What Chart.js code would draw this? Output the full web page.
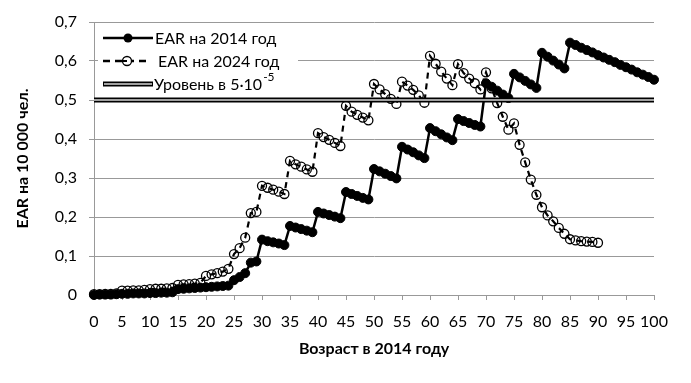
<!DOCTYPE html>
<html><head><meta charset="utf-8">
<script src="https://cdn.jsdelivr.net/npm/chart.js@4.4.1/dist/chart.umd.min.js"></script>
<style>html,body{margin:0;padding:0;background:#fff}</style>
</head><body>
<canvas id="c" width="691" height="383"></canvas>
<script>
// ---- data ----
const ages2014 = [0,1,2,3,4,5,6,7,8,9,10,11,12,13,14,15,16,17,18,19,20,21,22,23,24,25,26,27,28,29,30,31,32,33,34,35,36,37,38,39,40,41,42,43,44,45,46,47,48,49,50,51,52,53,54,55,56,57,58,59,60,61,62,63,64,65,66,67,68,69,70,71,72,73,74,75,76,77,78,79,80,81,82,83,84,85,86,87,88,89,90,91,92,93,94,95,96,97,98,99,100];
const ages2024 = [0,1,2,3,4,5,6,7,8,9,10,11,12,13,14,15,16,17,18,19,20,21,22,23,24,25,26,27,28,29,30,31,32,33,34,35,36,37,38,39,40,41,42,43,44,45,46,47,48,49,50,51,52,53,54,55,56,57,58,59,60,61,62,63,64,65,66,67,68,69,70,71,72,73,74,75,76,77,78,79,80,81,82,83,84,85,86,87,88,89,90];
const ear2014 = [
  0.000,0.001,0.001,0.001,0.002,
  0.003,0.003,0.004,0.004,0.004,
  0.005,0.005,0.006,0.006,0.007,
  0.015,0.016,0.017,0.018,0.019,
  0.020,0.021,0.022,0.023,0.024,
  0.038,0.046,0.056,0.083,0.086,
  0.142,0.138,0.135,0.132,0.128,
  0.177,0.173,0.169,0.165,0.161,
  0.213,0.209,0.205,0.201,0.197,
  0.264,0.259,0.254,0.249,0.245,
  0.323,0.317,0.311,0.305,0.299,
  0.380,0.373,0.366,0.358,0.351,
  0.428,0.420,0.412,0.404,0.397,
  0.451,0.446,0.441,0.436,0.432,
  0.543,0.534,0.524,0.514,0.505,
  0.567,0.558,0.549,0.540,0.531,
  0.621,0.611,0.601,0.591,0.581,
  0.647,0.641,0.634,0.628,0.622,0.615,0.609,0.603,0.597,0.590,0.584,0.578,0.571,0.565,0.559,0.552
];
const ear2024 = [
  0.002,0.002,0.003,0.003,0.004,
  0.011,0.011,0.012,0.012,0.013,
  0.015,0.016,0.016,0.017,0.018,
  0.026,0.027,0.028,0.029,0.031,
  0.049,0.053,0.056,0.060,0.067,
  0.105,0.120,0.147,0.210,0.213,
  0.280,0.275,0.270,0.265,0.259,
  0.344,0.335,0.329,0.322,0.316,
  0.415,0.405,0.398,0.390,0.382,
  0.485,0.470,0.462,0.455,0.448,
  0.541,0.527,0.515,0.503,0.490,
  0.547,0.537,0.526,0.512,0.493,
  0.613,0.593,0.573,0.555,0.538,
  0.592,0.569,0.555,0.543,0.527,
  0.571,0.530,0.492,0.457,0.424,
  0.440,0.385,0.340,0.296,0.257,
  0.225,0.204,0.189,0.172,0.157,
  0.143,0.140,0.138,0.137,0.136,0.134
];
const levelValue = 0.5;
const xTickLabels = [0,5,10,15,20,25,30,35,40,45,50,55,60,65,70,75,80,85,90,95,100];
const yTickLabels = ['0','0,1','0,2','0,3','0,4','0,5','0,6','0,7'];
const seriesNames = ['EAR на 2014 год','EAR на 2024 год','Уровень в 5·10'];
const levelSup = '-5';
const xTitle = 'Возраст в 2014 году';
const yTitle = 'EAR на 10 000 чел.';

const FONT = 'Lato, "Open Sans", sans-serif';
const pts = (xs, ys) => xs.map((x, i) => ({x: x, y: ys[i]}));
const levelPts = ages2014.map(a => ({x: a, y: levelValue}));

const legendPlugin = {
  id: 'customLegend',
  afterDraw(chart) {
    const ctx = chart.ctx;
    ctx.save();
    ctx.fillStyle = '#fff';
    ctx.fillRect(98, 27, 200, 68);
    ctx.fillStyle = '#000';
    ctx.strokeStyle = '#000';
    ctx.font = '16px ' + FONT;
    ctx.textBaseline = 'middle';
    ctx.textAlign = 'left';
    // row 1
    let y = 38;
    ctx.lineWidth = 2.5; ctx.setLineDash([]);
    ctx.beginPath(); ctx.moveTo(103, y); ctx.lineTo(153, y); ctx.stroke();
    ctx.beginPath(); ctx.arc(128, y, 4.5, 0, Math.PI * 2); ctx.fill();
    ctx.fillText(seriesNames[0], 155, y + 1);
    // row 2
    y = 61;
    ctx.lineWidth = 2.5;
    ctx.setLineDash([7, 5]);
    ctx.beginPath(); ctx.moveTo(103, y); ctx.lineTo(150, y); ctx.stroke();
    ctx.setLineDash([]);
    ctx.fillStyle = '#fff';
    ctx.beginPath(); ctx.arc(127, y, 4.5, 0, Math.PI * 2); ctx.fill();
    ctx.fillStyle = '#000';
    ctx.lineWidth = 1.3;
    ctx.beginPath(); ctx.arc(127, y, 4.5, 0, Math.PI * 2); ctx.stroke();
    ctx.beginPath(); ctx.moveTo(123, y); ctx.lineTo(127, y); ctx.lineWidth = 2; ctx.stroke();
    ctx.fillText(seriesNames[1], 158, y + 1);
    // row 3
    y = 84;
    ctx.lineWidth = 5; ctx.strokeStyle = '#000';
    ctx.beginPath(); ctx.moveTo(103, y); ctx.lineTo(153, y); ctx.stroke();
    ctx.lineWidth = 2; ctx.strokeStyle = '#a0a0a0';
    ctx.beginPath(); ctx.moveTo(104, y); ctx.lineTo(152, y); ctx.stroke();
    ctx.fillText(seriesNames[2], 154, y + 1);
    const w = ctx.measureText(seriesNames[2]).width;
    ctx.font = '12px ' + FONT;
    ctx.fillText(levelSup, 154 + w + 1, y - 7);
    ctx.restore();
  }
};

new Chart(document.getElementById('c'), {
  type: 'line',
  data: {
    datasets: [
      {
        label: seriesNames[0], data: pts(ages2014, ear2014), order: 2,
        borderColor: '#000', borderWidth: 2.5, tension: 0,
        pointRadius: 4.5, pointBackgroundColor: '#000', pointBorderColor: '#000', pointBorderWidth: 1,
        clip: false
      },
      {
        label: seriesNames[1], data: pts(ages2024, ear2024), order: 1,
        borderColor: '#000', borderWidth: 2.2, borderDash: [6, 5], tension: 0,
        pointRadius: 4.5, pointBackgroundColor: 'rgba(255,255,255,0)', pointBorderColor: '#000', pointBorderWidth: 1.3,
        clip: false
      },
      {
        label: seriesNames[2], data: levelPts, order: 0,
        borderColor: '#000', borderWidth: 5, pointRadius: 0, tension: 0, clip: false
      },
      {
        label: 'inner', data: levelPts, order: -1,
        borderColor: '#a0a0a0', borderWidth: 2, pointRadius: 0, tension: 0, clip: false
      }
    ]
  },
  options: {
    responsive: false,
    animation: false,
    layout: { padding: { top: 22, right: 37, left: 0, bottom: 0 } },
    plugins: { legend: { display: false }, tooltip: { enabled: false } },
    scales: {
      x: {
        type: 'linear', min: 0, max: 100, position: 'bottom',
        afterBuildTicks: s => { s.ticks = xTickLabels.map(v => ({ value: v })); },
        afterFit: s => { s.height = 88; },
        ticks: { autoSkip: false, maxRotation: 0, minRotation: 0, color: '#000', padding: 12,
                 font: { family: FONT, size: 16 }, callback: v => String(v) },
        grid: { drawOnChartArea: false, drawTicks: true, tickLength: 5, color: '#999' },
        border: { color: '#999', width: 1 },
        title: { display: true, text: xTitle, color: '#000',
                 font: { family: FONT, size: 16, weight: 'bold' }, padding: { top: 0, bottom: 25 } }
      },
      y: {
        min: 0, max: 0.7,
        afterFit: s => { s.width = 94; },
        ticks: { stepSize: 0.1, color: '#000', padding: 12,
                 font: { family: FONT, size: 16 },
                 callback: (v, i) => yTickLabels[i] },
        grid: { color: '#999', tickLength: 5, drawTicks: true },
        border: { color: '#999', width: 1 },
        title: { display: true, text: yTitle, color: '#000',
                 font: { family: FONT, size: 16, weight: 'bold' }, padding: { top: 13, bottom: 0 } }
      }
    }
  },
  plugins: [legendPlugin]
});
</script>
</body></html>
